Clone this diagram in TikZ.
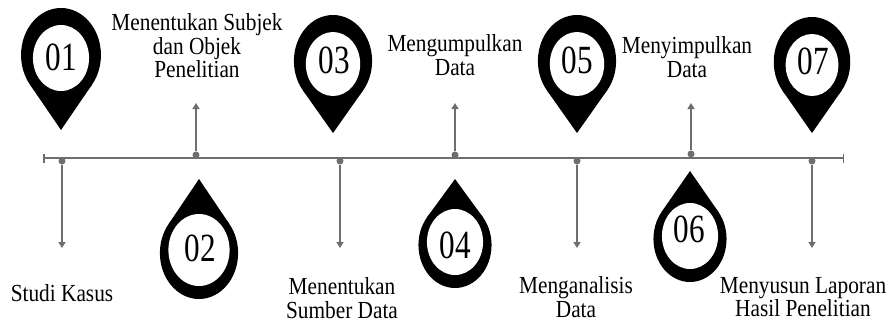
\documentclass[tikz,border=0pt]{standalone}
\usepackage{fontspec}
\usepackage{graphicx}
\setmainfont{Liberation Serif}
\usetikzlibrary{arrows.meta}
\definecolor{linegray}{HTML}{6E6E6E}
\newcommand\sq[1]{\scalebox{0.87}[1]{#1}}
\newcommand\sqn[1]{\scalebox{0.78}[1]{#1}}
\tikzset{
  lab/.style={align=center, inner sep=0pt, font=\fontsize{24.5}{23.6}\selectfont},
  num/.style={inner sep=0pt, font=\fontsize{40}{40}\selectfont},
  axis/.style={draw=linegray, line width=2.2pt, {Bar[width=9pt,line width=1.5pt]}-{Bar[width=9pt,line width=1.5pt]}},
  conn/.style={draw=linegray, line width=1.8pt, -{Triangle[width=7pt,length=6pt]}},
  dotmark/.style={circle, fill=linegray, inner sep=0pt, minimum size=7pt},
}
% #1 cx, #2 cy, #3 R, #4 D (tip distance), #5 direction (1 tip down, -1 tip up), #6 ring thickness
\newcommand\mypin[6]{%
  \begin{scope}[shift={(#1,#2)}, xscale=0.85, yscale=#5]
    \pgfmathsetmacro\tx{#3*sqrt(1-(#3/#4)*(#3/#4))}
    \pgfmathsetmacro\ty{#3*#3/#4}
    \fill[black] (0,0) circle (#3);
    \fill[black] (0,#4) -- (\tx,\ty) -- (-\tx,\ty) -- cycle;
    \fill[white] (0,3) circle (#3-#6);
  \end{scope}}
\begin{document}
\begin{tikzpicture}[x=1pt,y=-1pt]
\useasboundingbox (0,0) rectangle (889,322);
% pins
\mypin{61}{55}{47}{75}{1}{14}
\mypin{333}{61}{46}{72}{1}{14}
\mypin{577}{61}{46}{72}{1}{14}
\mypin{812}{62}{45}{71}{1}{14}
\mypin{199}{253}{46}{74}{-1}{10}
\mypin{455}{245}{43}{66}{-1}{10}
\mypin{690}{239}{43}{68}{-1}{10}
% numbers
\node[num] (n1) at (61,57) {\sqn{01}};
\node[num] (n2) at (200,248) {\sqn{02}};
\node[num] (n3) at (334,60) {\sqn{03}};
\node[num] (n4) at (455,245) {\sqn{04}};
\node[num] (n5) at (577,60) {\sqn{05}};
\node[num] (n6) at (689,229) {\sqn{06}};
\node[num] (n7) at (813,61) {\sqn{07}};
% axis
\coordinate (L) at (43,158);
\coordinate (R) at (844,158);
\draw[axis] (L) -- (R);
% dots
\node[dotmark] (d1) at (62,161) {};
\node[dotmark] (d2) at (196,155) {};
\node[dotmark] (d3) at (340,161) {};
\node[dotmark] (d4) at (455,155) {};
\node[dotmark] (d5) at (577,161) {};
\node[dotmark] (d6) at (691,154) {};
\node[dotmark] (d7) at (812,161) {};
% arrow ends
\coordinate (e1) at (62,248);
\coordinate (e2) at (196,103);
\coordinate (e3) at (340,248);
\coordinate (e4) at (455,103);
\coordinate (e5) at (577,248);
\coordinate (e6) at (691,103);
\coordinate (e7) at (812,248);
\foreach \i in {1,...,7} \draw[conn] (d\i) -- (e\i);
% labels
\node[lab] (t2) at (197,46) {\sq{Menentukan Subjek}\\\sq{dan Objek}\\\sq{Penelitian}};
\node[lab] (t4) at (455,55) {\sq{Mengumpulkan}\\\sq{Data}};
\node[lab] (t6) at (687,57) {\sq{Menyimpulkan}\\\sq{Data}};
\node[lab] (t1) at (62,293) {\sq{Studi Kasus}};
\node[lab] (t3) at (342,298) {\sq{Menentukan}\\\sq{Sumber Data}};
\node[lab] (t5) at (576,297) {\sq{Menganalisis}\\\sq{Data}};
\node[lab] (t7) at (803,297) {\sq{Menyusun Laporan}\\\sq{Hasil Penelitian}};
\end{tikzpicture}
\end{document}
